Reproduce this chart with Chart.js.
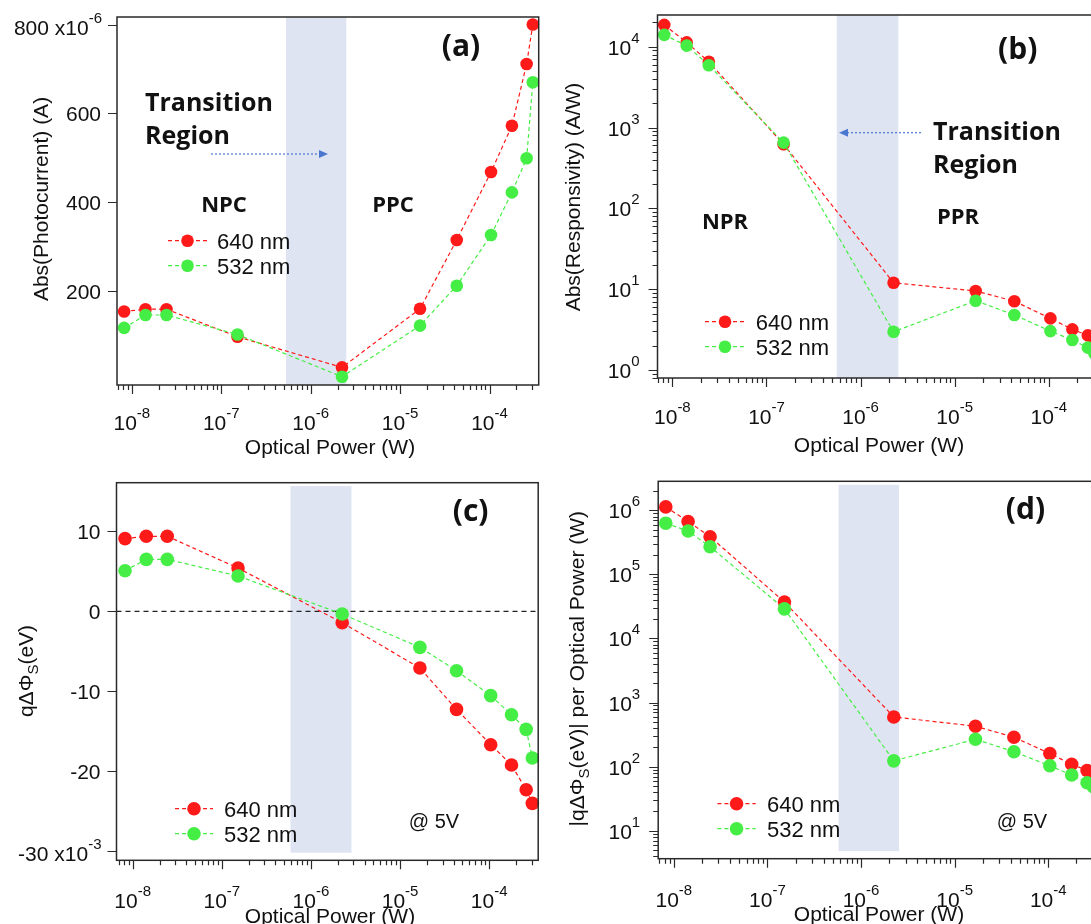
<!DOCTYPE html>
<html>
<head>
<meta charset="utf-8">
<script src="https://cdn.jsdelivr.net/npm/chart.js@4.4.1/dist/chart.umd.min.js"></script>
<style>
  body { margin: 0; width: 1091px; height: 924px; overflow: hidden; background: #fff; position: relative; }
  canvas { position: absolute; }
</style>
</head>
<body>
<canvas id="pa" width="545" height="462" style="left:0;top:0"></canvas>
<canvas id="pb" width="570" height="462" style="left:545px;top:0"></canvas>
<canvas id="pc" width="545" height="462" style="left:0;top:462px"></canvas>
<canvas id="pd" width="570" height="462" style="left:545px;top:462px"></canvas>
<script>
// Optical power (W), same for all four panels
const powers = [8.2e-9, 1.42e-8, 2.44e-8, 1.52e-7, 2.24e-6, 1.67e-5, 4.3e-5, 1.04e-4, 1.78e-4, 2.6e-4, 3.05e-4];

// (a) Abs(photocurrent), x10^-6 A
const current640 = [154, 159, 159, 97, 28, 160, 315, 468, 572, 711, 800];
const current532 = [117, 146, 146, 102, 7, 122, 212, 326, 422, 499, 670];

// (b) Abs(responsivity), A/W
const resp640 = [1.86e4, 1.13e4, 6.5e3, 620, 12.0, 9.5, 7.1, 4.35, 3.18, 2.68, 2.4];
const resp532 = [1.40e4, 1.03e4, 5.9e3, 650, 2.97, 7.2, 4.8, 3.03, 2.35, 1.89, 1.6];

// (c) q delta Phi_S, x10^-3 eV
const phi640 = [9.09, 9.38, 9.38, 5.41, -1.42, -7.08, -12.25, -16.67, -19.2, -22.3, -24.0];
const phi532 = [5.08, 6.5, 6.5, 4.42, -0.33, -4.5, -7.42, -10.54, -12.92, -14.75, -18.33];

// (d) |q delta Phi_S| per optical power
const phiPow640 = [1.13e6, 6.7e5, 3.87e5, 3.7e4, 596, 427, 288, 160, 109, 87, 75];
const phiPow532 = [6.3e5, 4.75e5, 2.7e5, 2.9e4, 123, 267, 171, 103, 74, 56, 48];

// tick labels
const xTicks = [1e-8, 1e-7, 1e-6, 1e-5, 1e-4];
const currentTicks = [200, 400, 600, 800];
const respTicks = [1, 10, 100, 1000, 10000];
const phiTicks = [10, 0, -10, -20, -30];
const phiPowTicks = [10, 100, 1e3, 1e4, 1e5, 1e6];

// transition region (W)
const shadeA = [5.3e-7, 2.5e-6];
const shadeB = [5.58e-7, 2.52e-6];
const shadeC = [5.9e-7, 2.85e-6];
const shadeD = [5.75e-7, 2.55e-6];

const RED = '#ff1a1a';
const GREEN = '#45ee45';
const FONT = '"Liberation Sans", Arial, sans-serif';
const BOLD = '"Open Sans", "Noto Sans", sans-serif';
const INK = '#2a2a2a';

const pts = (xs, ys) => xs.map((x, i) => ({ x: x, y: ys[i] }));

function powLabel(ctx, x, y, base, exp, align) {
  ctx.font = '21px ' + FONT;
  const wb = ctx.measureText(base).width;
  ctx.font = '15px ' + FONT;
  const we = exp ? ctx.measureText(exp).width : 0;
  const left = align === 'center' ? x - (wb + we) / 2 : x - wb - we;
  ctx.textAlign = 'left';
  ctx.textBaseline = 'alphabetic';
  ctx.font = '21px ' + FONT;
  ctx.fillText(base, left, y);
  if (exp) {
    ctx.font = '15px ' + FONT;
    ctx.fillText(exp, left + wb, y - 12);
  }
}

function rotTitle(ctx, cx, cy, parts) {
  ctx.save();
  ctx.translate(cx, cy);
  ctx.rotate(-Math.PI / 2);
  ctx.textAlign = 'left';
  ctx.textBaseline = 'alphabetic';
  let w = 0;
  parts.forEach(p => { ctx.font = (p.sub ? '15px ' : '21px ') + FONT; w += ctx.measureText(p.t).width; });
  let x = -w / 2;
  parts.forEach(p => {
    ctx.font = (p.sub ? '15px ' : '21px ') + FONT;
    ctx.fillText(p.t, x, p.sub ? 12 : 7);
    x += ctx.measureText(p.t).width;
  });
  ctx.restore();
}

function logMarks(min, max) {
  const out = [];
  for (let n = Math.floor(Math.log10(min)); n <= Math.ceil(Math.log10(max)); n++) {
    for (let k = 1; k <= 9; k++) {
      const v = k * Math.pow(10, n);
      if (v >= min && v <= max) out.push({ v: v, major: k === 1 });
    }
  }
  return out;
}

function panelPlugin(p) {
  return {
    id: 'panel',
    beforeDatasetsDraw(chart) {
      const { ctx, chartArea: a, scales: { x, y } } = chart;
      ctx.save();
      const x0 = x.getPixelForValue(p.shade[0]), x1 = x.getPixelForValue(p.shade[1]);
      const y0 = p.shadeY ? y.getPixelForValue(p.shadeY[1]) : a.top;
      const y1 = p.shadeY ? y.getPixelForValue(p.shadeY[0]) : a.bottom;
      ctx.fillStyle = '#dfe4f2';
      ctx.fillRect(x0, y0, x1 - x0, y1 - y0);
      if (p.zeroLine) {
        const yz = y.getPixelForValue(0);
        ctx.strokeStyle = '#222';
        ctx.lineWidth = 1.3;
        ctx.setLineDash([5, 4]);
        ctx.beginPath();
        ctx.moveTo(a.left, yz);
        ctx.lineTo(a.right, yz);
        ctx.stroke();
      }
      ctx.restore();
    },
    afterDraw(chart) {
      const { ctx, chartArea: a, scales: { x, y } } = chart;
      ctx.save();
      ctx.strokeStyle = INK;
      ctx.fillStyle = '#111';
      // frame
      ctx.lineWidth = 1.5;
      ctx.strokeRect(a.left, a.top, a.right - a.left, a.bottom - a.top);
      // x ticks
      ctx.lineWidth = 1.2;
      ctx.beginPath();
      logMarks(x.min, x.max).forEach(m => {
        const px = Math.round(x.getPixelForValue(m.v)) + 0.5;
        ctx.moveTo(px, a.bottom);
        ctx.lineTo(px, a.bottom + (m.major ? 9 : 5));
      });
      // y ticks
      if (p.yLog) {
        logMarks(y.min, y.max).forEach(m => {
          const py = Math.round(y.getPixelForValue(m.v)) + 0.5;
          ctx.moveTo(a.left, py);
          ctx.lineTo(a.left - (m.major ? 9 : 5), py);
        });
      } else {
        p.yTicks.forEach(v => {
          const py = Math.round(y.getPixelForValue(v)) + 0.5;
          ctx.moveTo(a.left, py);
          ctx.lineTo(a.left - 9, py);
        });
      }
      ctx.stroke();
      // x labels
      xTicks.forEach(v => {
        powLabel(ctx, x.getPixelForValue(v), p.xLabelY, '10', String(Math.round(Math.log10(v))), 'center');
      });
      // y labels
      p.yTicks.forEach(v => {
        const py = y.getPixelForValue(v);
        if (p.yLog) {
          powLabel(ctx, a.left - 18, py + 8, '10', String(Math.round(Math.log10(v))), 'right');
        } else if (v === p.yScaleTick) {
          powLabel(ctx, a.left - 15, py + 10, String(v) + ' x10', p.yScaleExp, 'right');
        } else {
          powLabel(ctx, a.left - 16, py + 7.5, String(v), '', 'right');
        }
      });
      // x title
      ctx.font = '21px ' + FONT;
      ctx.textAlign = 'center';
      ctx.textBaseline = 'alphabetic';
      ctx.fillText('Optical Power (W)', p.xTitle[0], p.xTitle[1]);
      // y title
      rotTitle(ctx, p.yTitle[0], p.yTitle[1], p.yTitleParts);
      // panel letter
      ctx.font = 'bold 30px ' + BOLD;
      ctx.textAlign = 'center';
      ctx.textBaseline = 'middle';
      ctx.fillText(p.letter[0], p.letter[1], p.letter[2]);
      // bold notes
      (p.notes || []).forEach(n => {
        ctx.font = 'bold ' + n.size + 'px ' + BOLD;
        ctx.textAlign = n.align || 'left';
        ctx.textBaseline = 'alphabetic';
        ctx.fillText(n.t, n.x, n.y);
      });
      if (p.bias) {
        ctx.font = '20px ' + FONT;
        ctx.textAlign = 'center';
        ctx.textBaseline = 'middle';
        ctx.fillText('@ 5V', p.bias[0], p.bias[1]);
      }
      // arrow
      if (p.arrow) {
        const [ax0, ax1, ay] = p.arrow;
        const dir = Math.sign(ax1 - ax0);
        ctx.strokeStyle = '#4a78d0';
        ctx.fillStyle = '#4a78d0';
        ctx.lineWidth = 1.2;
        ctx.setLineDash([2, 2]);
        ctx.beginPath();
        ctx.moveTo(ax0, ay);
        ctx.lineTo(ax1 - dir * 8, ay);
        ctx.stroke();
        ctx.setLineDash([]);
        ctx.beginPath();
        ctx.moveTo(ax1, ay);
        ctx.lineTo(ax1 - dir * 9, ay - 4);
        ctx.lineTo(ax1 - dir * 9, ay + 4);
        ctx.closePath();
        ctx.fill();
      }
      // legend
      const L = p.legend;
      chart.data.datasets.forEach((ds, i) => {
        const ly = L.y + i * 25;
        ctx.strokeStyle = ds.borderColor;
        ctx.lineWidth = 1.2;
        ctx.setLineDash([4, 3]);
        ctx.beginPath();
        ctx.moveTo(L.x1, ly);
        ctx.lineTo(L.x2, ly);
        ctx.stroke();
        ctx.setLineDash([]);
        ctx.fillStyle = ds.backgroundColor;
        ctx.beginPath();
        ctx.arc((L.x1 + L.x2) / 2, ly, ds.pointRadius, 0, Math.PI * 2);
        ctx.fill();
        ctx.fillStyle = '#111';
        ctx.font = '22px ' + FONT;
        ctx.textAlign = 'left';
        ctx.textBaseline = 'alphabetic';
        ctx.fillText(ds.label, L.tx, ly + 8);
      });
      ctx.restore();
    }
  };
}

function makePanel(id, p) {
  const ds = (label, vals, color, order) => ({
    label: label,
    data: pts(powers, vals),
    showLine: true,
    borderColor: color,
    backgroundColor: color,
    borderWidth: 1.2,
    borderDash: [4, 3],
    pointRadius: p.r,
    pointHoverRadius: p.r,
    pointBorderWidth: 0,
    order: order,
    clip: false
  });
  return new Chart(document.getElementById(id), {
    type: 'scatter',
    data: { datasets: [ds('640 nm', p.red, RED, 1), ds('532 nm', p.green, GREEN, 0)] },
    options: {
      responsive: false,
      animation: false,
      devicePixelRatio: 1,
      events: [],
      layout: { padding: p.pad },
      plugins: { legend: { display: false }, tooltip: { enabled: false } },
      scales: {
        x: { type: 'logarithmic', min: p.xr[0], max: p.xr[1], display: false },
        y: { type: p.yLog ? 'logarithmic' : 'linear', min: p.yr[0], max: p.yr[1], display: false }
      }
    },
    plugins: [panelPlugin(p)]
  });
}

makePanel('pa', {
  red: current640, green: current532, r: 6.3,
  pad: { left: 117, top: 17, right: 3, bottom: 77 },
  xr: [Math.pow(10, -8.166), Math.pow(10, -3.45)], yr: [-11.6, 816.9], yLog: false,
  yTicks: currentTicks, yScaleTick: 800, yScaleExp: '-6',
  shade: shadeA,
  xLabelY: 430, xTitle: [330, 454], yTitle: [41, 199],
  yTitleParts: [{ t: 'Abs(Photocurrent) (A)' }],
  letter: ['(a)', 461, 47],
  notes: [
    { t: 'Transition', x: 145, y: 111, size: 25 },
    { t: 'Region', x: 145, y: 144, size: 25 },
    { t: 'NPC', x: 224, y: 212, size: 22, align: 'center' },
    { t: 'PPC', x: 393, y: 212, size: 22, align: 'center' }
  ],
  arrow: [211, 328, 154],
  legend: { x1: 168, x2: 207, y: 240.7, tx: 217 }
});

makePanel('pb', {
  red: resp640, green: resp532, r: 6.3,
  pad: { left: 112.5, top: 15, right: 15, bottom: 84 },
  xr: [Math.pow(10, -8.158), Math.pow(10, -3.456)], yr: [Math.pow(10, -0.099), Math.pow(10, 4.392)], yLog: true,
  yTicks: respTicks,
  shade: shadeB,
  xLabelY: 424, xTitle: [334, 452], yTitle: [28, 197],
  yTitleParts: [{ t: 'Abs(Responsivity) (A/W)' }],
  letter: ['(b)', 472.7, 50],
  notes: [
    { t: 'Transition', x: 388, y: 140, size: 25 },
    { t: 'Region', x: 388, y: 173, size: 25 },
    { t: 'NPR', x: 180, y: 229, size: 22, align: 'center' },
    { t: 'PPR', x: 413, y: 224, size: 22, align: 'center' }
  ],
  arrow: [376, 294, 132.7],
  legend: { x1: 160, x2: 200, y: 321.7, tx: 210.7 }
});

makePanel('pc', {
  red: phi640, green: phi532, r: 6.8,
  pad: { left: 116.5, top: 20.7, right: 2, bottom: 63.7 },
  xr: [Math.pow(10, -8.182), Math.pow(10, -3.45)], yr: [-31.12, 16.08], yLog: false,
  yTicks: phiTicks, yScaleTick: -30, yScaleExp: '-3',
  shade: shadeC, shadeY: [-30.17, 15.66], zeroLine: true,
  xLabelY: 446, xTitle: [330, 460.5], yTitle: [26, 209],
  yTitleParts: [{ t: 'q\u0394\u03A6' }, { t: 'S', sub: true }, { t: '(eV)' }],
  letter: ['(c)', 470.6, 50],
  bias: [434, 360],
  legend: { x1: 175, x2: 213, y: 346.7, tx: 224 }
});

makePanel('pd', {
  red: phiPow640, green: phiPow532, r: 6.8,
  pad: { left: 113.2, top: 19.3, right: 15, bottom: 65.3 },
  xr: [Math.pow(10, -8.167), Math.pow(10, -3.447)], yr: [Math.pow(10, 0.563), Math.pow(10, 6.453)], yLog: true,
  yTicks: phiPowTicks,
  shade: shadeD, shadeY: [4.8, 2.5e6],
  xLabelY: 445, xTitle: [334, 459], yTitle: [32, 206.7],
  yTitleParts: [{ t: '|q\u0394\u03A6' }, { t: 'S', sub: true }, { t: '(eV)| per Optical Power (W)' }],
  letter: ['(d)', 480.5, 48.3],
  bias: [477, 360],
  legend: { x1: 172.4, x2: 210.7, y: 341.7, tx: 222 }
});
</script>
</body>
</html>
